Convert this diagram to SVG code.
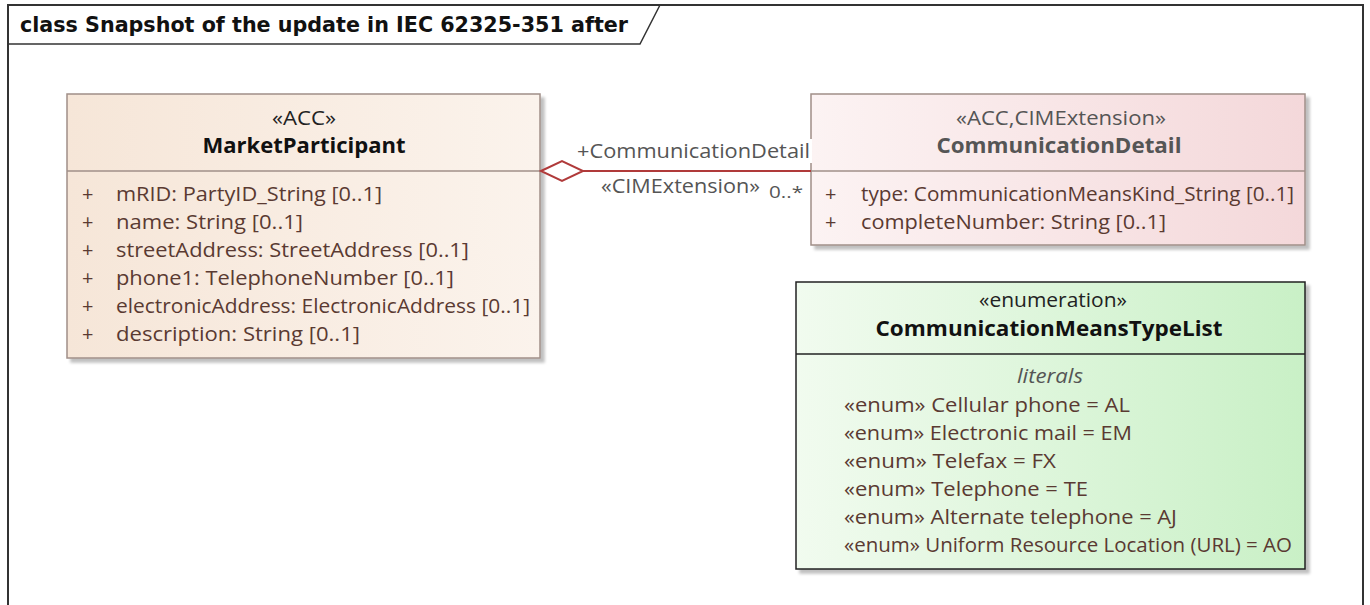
<svg xmlns="http://www.w3.org/2000/svg" width="1370" height="605" viewBox="0 0 1370 605">
<defs>
<linearGradient id="gMP" x1="0" y1="0" x2="1" y2="0"><stop offset="0" stop-color="#f6e6d8"/><stop offset="1" stop-color="#fbf3ec"/></linearGradient>
<linearGradient id="gCD" x1="0" y1="0" x2="1" y2="0"><stop offset="0" stop-color="#fcf3f3"/><stop offset="1" stop-color="#f4d8da"/></linearGradient>
<linearGradient id="gEN" x1="0" y1="0" x2="1" y2="0"><stop offset="0" stop-color="#f1fbef"/><stop offset="1" stop-color="#c9f0c6"/></linearGradient>
<filter id="sh" x="-5%" y="-5%" width="115%" height="115%"><feOffset dx="4" dy="4" in="SourceAlpha"/><feGaussianBlur stdDeviation="1.5"/><feComponentTransfer><feFuncA type="linear" slope="0.25"/></feComponentTransfer><feMerge><feMergeNode/><feMergeNode in="SourceGraphic"/></feMerge></filter>
<style>
text{font-family:"Open Sans","Noto Sans","DejaVu Sans",sans-serif;font-size:20px;}
.st{text-anchor:middle;fill:#222;}
.nm{text-anchor:middle;font-weight:bold;font-size:21px;fill:#111;}
.at{fill:#5a3a32;}
.gy{fill:#555;}
.box{stroke:#a08f88;stroke-width:1.5;}
</style>
</defs>
<rect width="1370" height="605" fill="#fff"/>
<g id="frame">
<path d="M8 610 V5 H1363 V610" fill="none" stroke="#333" stroke-width="2"/>
<path d="M8 44 H640 L660 5" fill="none" stroke="#333" stroke-width="1.5"/>
<text x="20" y="32" textLength="608" lengthAdjust="spacingAndGlyphs" style="font-family:'DejaVu Sans Condensed','DejaVu Sans',sans-serif;font-size:21px;font-weight:bold;fill:#111">class Snapshot of the update in IEC 62325-351 after</text>
</g>
<g id="MarketParticipant">
<rect x="67" y="94" width="473" height="264" fill="url(#gMP)" class="box" filter="url(#sh)"/>
<line x1="67" y1="171" x2="540" y2="171" stroke="#a08f88" stroke-width="1.5"/>
<text x="304" y="125" class="st" textLength="64" lengthAdjust="spacingAndGlyphs">«ACC»</text>
<text x="304" y="153" class="nm" textLength="203" lengthAdjust="spacingAndGlyphs">MarketParticipant</text>
<text x="82" y="201" class="at">+</text><text x="116" y="201" class="at" textLength="266" lengthAdjust="spacingAndGlyphs">mRID: PartyID_String [0..1]</text>
<text x="82" y="229" class="at">+</text><text x="116" y="229" class="at" textLength="187" lengthAdjust="spacingAndGlyphs">name: String [0..1]</text>
<text x="82" y="257" class="at">+</text><text x="116" y="257" class="at" textLength="353" lengthAdjust="spacingAndGlyphs">streetAddress: StreetAddress [0..1]</text>
<text x="82" y="285" class="at">+</text><text x="116" y="285" class="at" textLength="338" lengthAdjust="spacingAndGlyphs">phone1: TelephoneNumber [0..1]</text>
<text x="82" y="313" class="at">+</text><text x="116" y="313" class="at" textLength="414" lengthAdjust="spacingAndGlyphs">electronicAddress: ElectronicAddress [0..1]</text>
<text x="82" y="341" class="at">+</text><text x="116" y="341" class="at" textLength="244" lengthAdjust="spacingAndGlyphs">description: String [0..1]</text>
</g>
<g id="CommunicationDetail">
<rect x="811" y="94" width="494" height="151" fill="url(#gCD)" class="box" filter="url(#sh)"/>
<line x1="811" y1="171" x2="1305" y2="171" stroke="#a08f88" stroke-width="1.5"/>
<text x="1061" y="125" class="st gy" textLength="210" lengthAdjust="spacingAndGlyphs">«ACC,CIMExtension»</text>
<text x="1059" y="153" class="nm" style="fill:#555" textLength="245" lengthAdjust="spacingAndGlyphs">CommunicationDetail</text>
<text x="825" y="201" class="at">+</text><text x="861" y="201" class="at" textLength="433" lengthAdjust="spacingAndGlyphs">type: CommunicationMeansKind_String [0..1]</text>
<text x="825" y="229" class="at">+</text><text x="861" y="229" class="at" textLength="305" lengthAdjust="spacingAndGlyphs">completeNumber: String [0..1]</text>
</g>
<g id="CommunicationMeansTypeList">
<rect x="796" y="282" width="509" height="287" fill="url(#gEN)" stroke="#222" stroke-width="1.5" filter="url(#sh)"/>
<line x1="796" y1="354" x2="1305" y2="354" stroke="#222" stroke-width="1.5"/>
<text x="1053" y="307" class="st" textLength="148" lengthAdjust="spacingAndGlyphs">«enumeration»</text>
<text x="1049" y="336" class="nm" textLength="347" lengthAdjust="spacingAndGlyphs">CommunicationMeansTypeList</text>
<text x="1050" y="383" class="st" style="font-style:italic;fill:#555" textLength="66" lengthAdjust="spacingAndGlyphs">literals</text>
<text x="844" y="412" class="at" textLength="286" lengthAdjust="spacingAndGlyphs">«enum» Cellular phone = AL</text>
<text x="844" y="440" class="at" textLength="288" lengthAdjust="spacingAndGlyphs">«enum» Electronic mail = EM</text>
<text x="844" y="468" class="at" textLength="212" lengthAdjust="spacingAndGlyphs">«enum» Telefax = FX</text>
<text x="844" y="496" class="at" textLength="244" lengthAdjust="spacingAndGlyphs">«enum» Telephone = TE</text>
<text x="844" y="524" class="at" textLength="333" lengthAdjust="spacingAndGlyphs">«enum» Alternate telephone = AJ</text>
<text x="844" y="552" class="at" textLength="448" lengthAdjust="spacingAndGlyphs">«enum» Uniform Resource Location (URL) = AO</text>
</g>
<g id="connectors">
<line x1="583" y1="171" x2="811" y2="171" stroke="#b03a3a" stroke-width="2"/>
<polygon points="541,171 562,161 583,171 562,181" fill="#fff" stroke="#b03a3a" stroke-width="2"/>
<rect x="574" y="139" width="238" height="24" fill="#fff"/>
<text x="577" y="158" class="gy" textLength="233" lengthAdjust="spacingAndGlyphs">+CommunicationDetail</text>
<text x="601" y="193" class="gy" textLength="159" lengthAdjust="spacingAndGlyphs">«CIMExtension»</text>
<text x="769" y="198" class="gy" style="font-size:17px" textLength="34" lengthAdjust="spacingAndGlyphs">0..*</text>
</g>
</svg>
